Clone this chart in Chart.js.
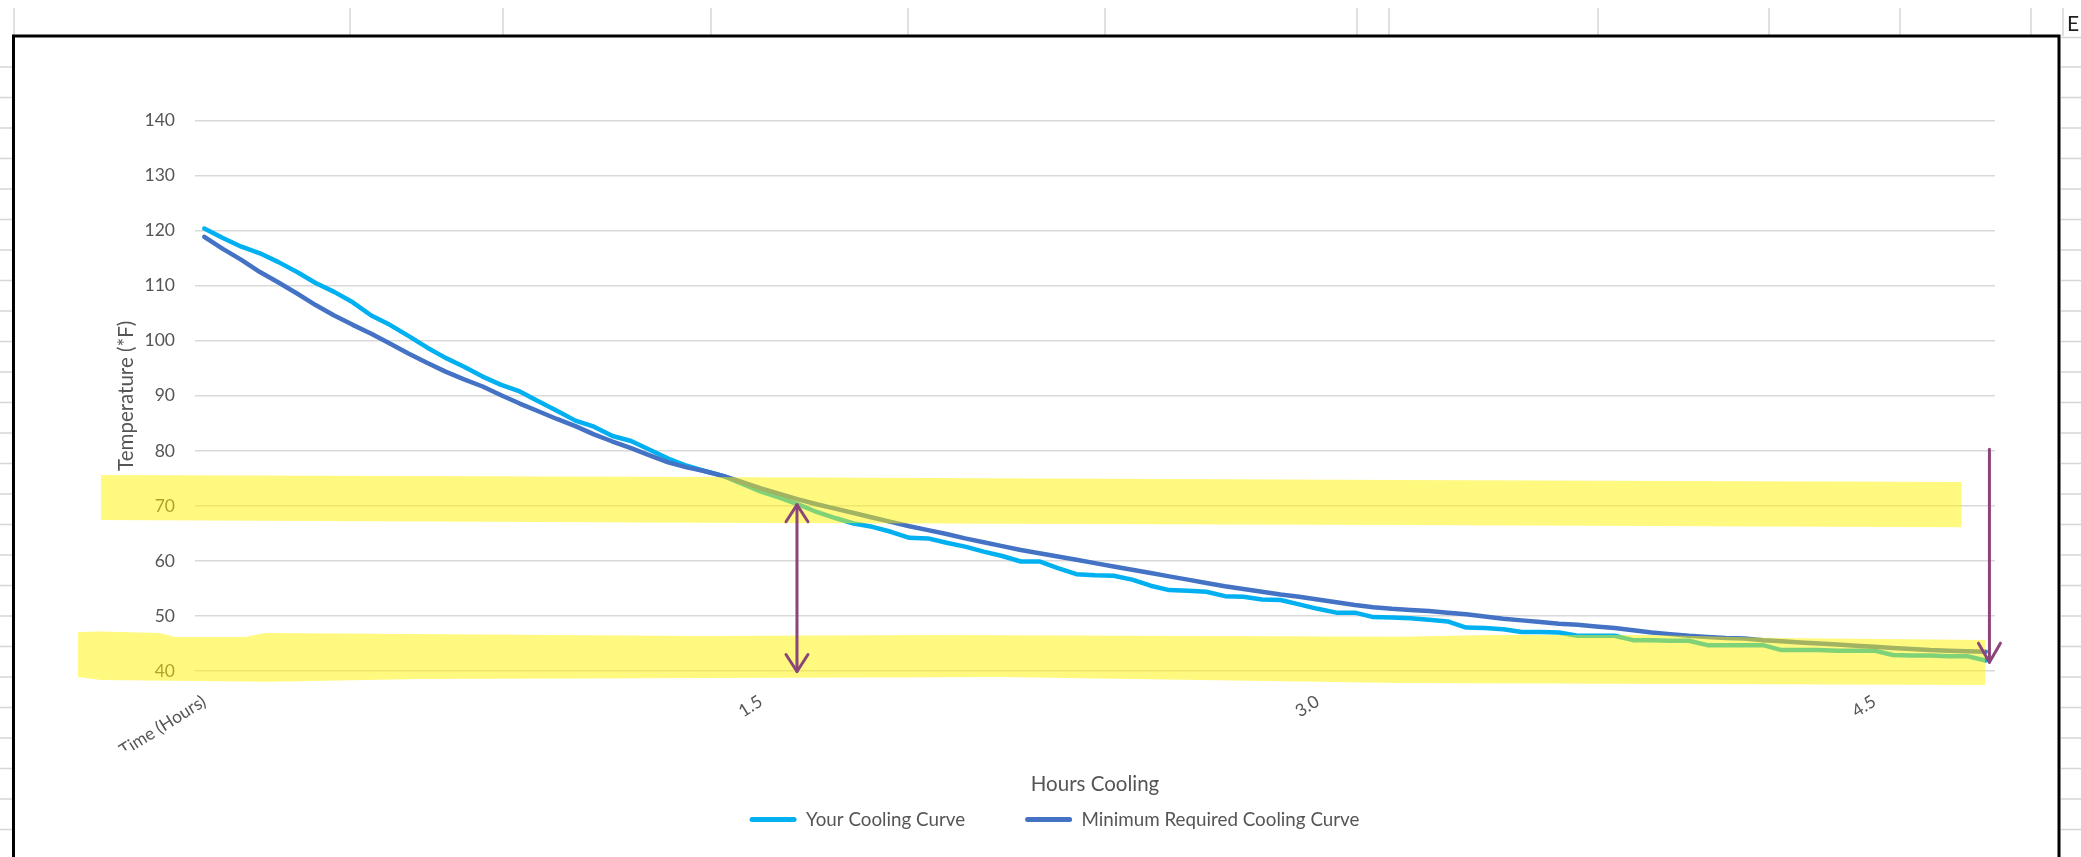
<!DOCTYPE html>
<html>
<head>
<meta charset="utf-8">
<title>Cooling Curve</title>
<script src="https://cdn.jsdelivr.net/npm/chart.js@4.4.1/dist/chart.umd.min.js"></script>
<style>
  html, body { margin: 0; padding: 0; background: #fff; overflow: hidden; }
  canvas { display: block; }
</style>
</head>
<body>
<canvas id="cooling" width="2081" height="857"></canvas>
<script>
// Category axis: header cell first, then elapsed hours in 3-minute steps
const hours = ['Time (Hours)',
  0.05, 0.10, 0.15, 0.20, 0.25, 0.30, 0.35, 0.40, 0.45, 0.50,
  0.55, 0.60, 0.65, 0.70, 0.75, 0.80, 0.85, 0.90, 0.95, 1.00,
  1.05, 1.10, 1.15, 1.20, 1.25, 1.30, 1.35, 1.40, 1.45, 1.50,
  1.55, 1.60, 1.65, 1.70, 1.75, 1.80, 1.85, 1.90, 1.95, 2.00,
  2.05, 2.10, 2.15, 2.20, 2.25, 2.30, 2.35, 2.40, 2.45, 2.50,
  2.55, 2.60, 2.65, 2.70, 2.75, 2.80, 2.85, 2.90, 2.95, 3.00,
  3.05, 3.10, 3.15, 3.20, 3.25, 3.30, 3.35, 3.40, 3.45, 3.50,
  3.55, 3.60, 3.65, 3.70, 3.75, 3.80, 3.85, 3.90, 3.95, 4.00,
  4.05, 4.10, 4.15, 4.20, 4.25, 4.30, 4.35, 4.40, 4.45, 4.50,
  4.55, 4.60, 4.65, 4.70, 4.75, 4.80];

// Logged temperatures (°F)
const yourCoolingCurve = [
  120.4, 118.7, 117.1, 115.9, 114.3, 112.5, 110.5, 108.9, 107.0, 104.6,
  102.9, 100.9, 98.8, 96.9, 95.3, 93.5, 92.0, 90.8, 89.0, 87.3,
  85.5, 84.4, 82.7, 81.8, 80.2, 78.6, 77.3, 76.3, 75.4, 74.0,
  72.6, 71.5, 70.3, 68.9, 67.8, 66.8, 66.2, 65.3, 64.2, 64.1,
  63.3, 62.6, 61.7, 60.9, 59.9, 59.9, 58.7, 57.6, 57.4, 57.3,
  56.6, 55.5, 54.7, 54.6, 54.4, 53.6, 53.5, 53.0, 52.9, 52.1,
  51.3, 50.6, 50.6, 49.8, 49.7, 49.6, 49.3, 49.0, 47.9, 47.8,
  47.6, 47.1, 47.1, 47.0, 46.4, 46.4, 46.4, 45.6, 45.6, 45.5,
  45.5, 44.7, 44.7, 44.7, 44.7, 43.8, 43.8, 43.8, 43.7, 43.7,
  43.7, 42.9, 42.8, 42.8, 42.7, 42.7, 41.9];

// Required cooling schedule (°F)
const minimumRequiredCurve = [
  118.9, 116.7, 114.7, 112.5, 110.6, 108.6, 106.5, 104.6, 102.9, 101.3,
  99.5, 97.7, 96.0, 94.4, 93.0, 91.7, 90.1, 88.6, 87.2, 85.8,
  84.5, 83.0, 81.7, 80.5, 79.2, 77.9, 77.0, 76.3, 75.4, 74.3,
  73.2, 72.2, 71.2, 70.3, 69.5, 68.7, 67.9, 67.1, 66.3, 65.6,
  64.9, 64.1, 63.4, 62.7, 62.0, 61.4, 60.8, 60.2, 59.6, 59.0,
  58.4, 57.8, 57.2, 56.6, 56.0, 55.4, 54.9, 54.4, 53.9, 53.5,
  53.0, 52.5, 52.0, 51.6, 51.3, 51.1, 50.9, 50.6, 50.3, 49.9,
  49.5, 49.2, 48.9, 48.6, 48.4, 48.1, 47.8, 47.4, 47.0, 46.7,
  46.4, 46.2, 46.0, 45.9, 45.6, 45.4, 45.2, 45.0, 44.8, 44.6,
  44.4, 44.2, 44.0, 43.8, 43.7, 43.6, 43.5];

// Temperature axis ticks
const tempTicks = { min: 40, max: 140, step: 10 };
// Show an hour label on every 30th category
const hourLabelEvery = 30;

const TEXT = '#555555';
Chart.defaults.font.family = 'Lato, "Open Sans", sans-serif';

// Worksheet behind the embedded chart object
const sheetPlugin = {
  id: 'sheet',
  beforeDraw(chart) {
    const ctx = chart.ctx;
    const seg = (x1, y1, x2, y2) => { ctx.beginPath(); ctx.moveTo(x1, y1); ctx.lineTo(x2, y2); ctx.stroke(); };
    ctx.save();
    ctx.fillStyle = '#ffffff';
    ctx.fillRect(0, 0, chart.width, chart.height);
    ctx.strokeStyle = '#d6d6d6';
    ctx.lineWidth = 1.5;
    [14, 350, 503, 711, 908, 1105, 1357, 1389, 1598, 1769, 1900, 2031, 2063]
      .forEach(x => seg(x, 8, x, 36));
    for (let y = 67; y < chart.height; y += 30.5) {
      seg(0, y, 12, y);
      seg(2061, y, chart.width, y);
    }
    seg(2061, 37.5, chart.width, 37.5);
    ctx.fillStyle = '#1f1f1f';
    ctx.font = '21px Lato, sans-serif';
    ctx.textBaseline = 'alphabetic';
    ctx.fillText('E', 2067, 31);
    // frame of the chart object
    ctx.strokeStyle = '#000';
    ctx.lineWidth = 3;
    ctx.beginPath();
    ctx.moveTo(13.5, chart.height + 10);
    ctx.lineTo(13.5, 36);
    ctx.lineTo(2059, 36);
    ctx.lineTo(2059, chart.height + 10);
    ctx.stroke();
    ctx.restore();
  }
};

// Highlighter strokes and arrows, placed in axis units (category index, °F)
const markupPlugin = {
  id: 'markup',
  afterDraw(chart, args, opts) {
    const { ctx, scales: { x, y } } = chart;
    const px = (i, v) => [x.getPixelForValue(i), y.getPixelForValue(v)];
    ctx.save();
    ctx.fillStyle = opts.highlight;
    opts.bands.forEach(band => {
      ctx.beginPath();
      band.top.forEach(([i, v], k) => { const [a, b] = px(i, v); k ? ctx.lineTo(a, b) : ctx.moveTo(a, b); });
      band.bottom.slice().reverse().forEach(([i, v]) => { const [a, b] = px(i, v); ctx.lineTo(a, b); });
      ctx.closePath();
      ctx.fill();
    });
    ctx.strokeStyle = opts.arrowColor;
    ctx.lineWidth = 3;
    ctx.lineCap = 'round';
    ctx.lineJoin = 'round';
    opts.arrows.forEach(ar => {
      const [ax, y1] = px(ar.at, ar.from);
      const [, y2] = px(ar.at, ar.to);
      ctx.beginPath();
      ctx.moveTo(ax, y1);
      ctx.lineTo(ax, y2);
      ctx.stroke();
      const head = (ty, dir) => {
        ctx.beginPath();
        ctx.moveTo(ax - ar.headW, ty + dir * ar.headH);
        ctx.lineTo(ax, ty);
        ctx.lineTo(ax + ar.headW, ty + dir * ar.headH);
        ctx.stroke();
      };
      if (ar.startHead) head(y1, 1);
      if (ar.endHead) head(y2, -1);
    });
    ctx.restore();
  }
};

new Chart(document.getElementById('cooling'), {
  type: 'line',
  data: {
    labels: hours,
    datasets: [
      {
        label: 'Your Cooling Curve',
        data: yourCoolingCurve,
        borderColor: '#00B0F0',
        backgroundColor: '#00B0F0',
        order: 1
      },
      {
        label: 'Minimum Required Cooling Curve',
        data: minimumRequiredCurve,
        borderColor: '#4472C4',
        backgroundColor: '#4472C4',
        order: 0
      }
    ]
  },
  options: {
    responsive: false,
    animation: false,
    devicePixelRatio: 1,
    elements: {
      line: { borderWidth: 4.5, tension: 0, borderJoinStyle: 'round', borderCapStyle: 'round', fill: false },
      point: { radius: 0, hoverRadius: 0 }
    },
    layout: { padding: { left: 114, right: 86, top: 120.7, bottom: 18 } },
    scales: {
      x: {
        type: 'category',
        offset: true,
        grid: { display: false, drawTicks: false },
        border: { display: false },
        ticks: {
          autoSkip: false,
          minRotation: 32,
          maxRotation: 32,
          padding: 20,
          color: TEXT,
          font: { size: 17.5 },
          callback(value, index) {
            if (index % hourLabelEvery) return '';
            const h = hours[index];
            return typeof h === 'number' ? h.toFixed(1) : h;
          }
        },
        title: {
          display: true,
          text: 'Hours Cooling',
          color: TEXT,
          font: { size: 20.5 },
          padding: { top: 0, bottom: -46.6 }
        },
        afterFit(scale) { scale.height = 79.2; }
      },
      y: {
        min: tempTicks.min,
        max: tempTicks.max,
        grid: { color: '#d9d9d9', lineWidth: 1.5, drawTicks: false },
        border: { display: false },
        ticks: { stepSize: tempTicks.step, padding: 20, color: TEXT, font: { size: 17.5 } },
        title: {
          display: true,
          text: 'Temperature (*F)',
          color: TEXT,
          font: { size: 20.5 },
          padding: 0
        },
        afterFit(scale) { scale.width = 81; }
      }
    },
    plugins: {
      tooltip: { enabled: false },
      legend: {
        position: 'bottom',
        labels: {
          boxWidth: 47,
          boxHeight: 5,
          padding: 60,
          color: TEXT,
          font: { size: 18.8 },
          useBorderRadius: true,
          borderRadius: 2.5,
          sort: (a, b) => a.datasetIndex - b.datasetIndex,
          generateLabels(chart) {
            const items = Chart.defaults.plugins.legend.labels.generateLabels(chart);
            items.forEach(it => { it.fillStyle = it.strokeStyle; it.lineWidth = 0; });
            return items;
          }
        }
      },
      markup: {
        highlight: 'rgba(255, 243, 0, 0.5)',
        arrowColor: '#8B4579',
        bands: [
          {
            top: [[-5.57, 75.62], [26.7, 75.25], [64.4, 74.71], [94.7, 74.35]],
            bottom: [[-5.57, 67.44], [26.7, 66.95], [64.4, 66.53], [94.7, 66.11]]
          },
          {
            top: [[-6.8, 47.09], [-5.6, 47.18], [-2.39, 46.91], [-1.58, 46.18], [2.19, 46.18], [3.27, 46.91],
                  [26.7, 46.36], [39.26, 46.54], [64.4, 46.23], [69.27, 46.54], [77.9, 46.54], [84.9, 46.0], [95.96, 45.63]],
            bottom: [[-6.8, 38.91], [-5.6, 38.36], [3.54, 38.06], [11.6, 38.55], [42.9, 38.91], [64.4, 37.82], [95.96, 37.46]]
          }
        ],
        arrows: [
          { at: 31.94, from: 70.2, to: 39.9, startHead: true, endHead: true, headW: 11, headH: 17 },
          { at: 96.2, from: 80.3, to: 41.6, startHead: false, endHead: true, headW: 11, headH: 19 }
        ]
      }
    }
  },
  plugins: [sheetPlugin, markupPlugin]
});
</script>
</body>
</html>
